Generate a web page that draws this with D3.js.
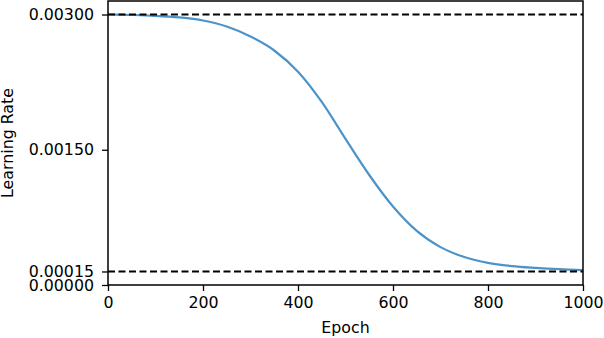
<!DOCTYPE html>
<html>
<head>
<meta charset="utf-8">
<script src="https://cdn.jsdelivr.net/npm/d3@7"></script>
<style>
  body { margin: 0; background: #fff; }
  svg { display: block; }
  text { font-family: "DejaVu Sans", sans-serif; }
</style>
</head>
<body>
<div id="chart"></div>
<script>
// Data
const EPOCHS = [0, 50, 100, 150, 200, 250, 300, 350, 400, 450, 500, 550, 600, 650, 700, 750, 800, 850, 900, 950, 1000];
const LR = [0.003, 0.002995, 0.002986, 0.002968, 0.002934, 0.002867, 0.002756, 0.002601, 0.002365, 0.002030,
            0.001620, 0.001220, 0.000870, 0.000600, 0.000420, 0.000310, 0.000245, 0.000210, 0.000190, 0.000175, 0.000165];
const LR_MAX = 0.003;
const LR_MIN = 0.00015;
const X_TICKS = [0, 200, 400, 600, 800, 1000];
const Y_TICKS = [0, 0.00015, 0.0015, 0.003];

const W = 604, H = 338;
const margin = {top: 1, right: 21, bottom: 53, left: 108};
const width = W - margin.left - margin.right, height = H - margin.top - margin.bottom;
const FONT = "15.8px";

const svg = d3.select("#chart").append("svg").attr("width", W).attr("height", H);
const g = svg.append("g").attr("transform", `translate(${margin.left},${margin.top})`);

const x = d3.scaleLinear().domain([0, 1000]).range([0, width]);
const y = d3.scaleLinear().domain([0, 0.00315]).range([height, 0]);

// Axes
const xAxis = g.append("g").attr("transform", `translate(0,${height})`)
    .call(d3.axisBottom(x).tickValues(X_TICKS).tickFormat(d3.format("d")).tickSize(6).tickSizeOuter(0).tickPadding(6));
const yAxis = g.append("g")
    .call(d3.axisLeft(y).tickValues(Y_TICKS).tickFormat(d => d.toFixed(5)).tickSize(6).tickSizeOuter(0).tickPadding(8));
[xAxis, yAxis].forEach(a => {
    a.selectAll("text").style("font-size", FONT).attr("fill", "#000");
    a.selectAll("line").attr("stroke", "#000").attr("stroke-width", 1.3);
    a.select(".domain").remove();
});

// Curve
const line = d3.line().x((d, i) => x(EPOCHS[i])).y(d => y(d)).curve(d3.curveMonotoneX);
g.append("path").datum(LR).attr("fill", "none").attr("stroke", "#4b93c9").attr("stroke-width", 2.2).attr("d", line);

// Bounds
[LR_MAX, LR_MIN].forEach(v => {
    g.append("line").attr("x1", 0).attr("x2", width).attr("y1", y(v)).attr("y2", y(v))
        .attr("stroke", "#000").attr("stroke-width", 2.2).attr("stroke-dasharray", "7,3.5");
});

// Frame
g.append("rect").attr("width", width).attr("height", height).attr("fill", "none").attr("stroke", "#000").attr("stroke-width", 1.5);

// Labels
svg.append("text").attr("x", margin.left + width / 2).attr("y", 333).attr("text-anchor", "middle")
    .style("font-size", FONT).text("Epoch");
svg.append("text").attr("transform", `translate(12.5,${margin.top + height / 2}) rotate(-90)`).attr("text-anchor", "middle")
    .style("font-size", FONT).text("Learning Rate");
</script>
</body>
</html>
